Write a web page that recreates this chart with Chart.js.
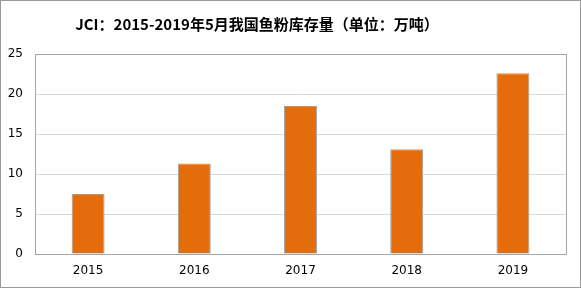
<!DOCTYPE html>
<html>
<head>
<meta charset="utf-8">
<script src="https://cdn.jsdelivr.net/npm/chart.js@4"></script>
<style>
  html, body { margin: 0; padding: 0; background: #fff; }
  #wrap { width: 581px; height: 288px; }
</style>
</head>
<body>
<div id="wrap"><canvas id="FishMealChart" width="581" height="288"></canvas></div>
<script>
const years = ['2015', '2016', '2017', '2018', '2019'];
const stock = [7.5, 11.3, 18.5, 13.1, 22.6];
const yTicks = [0, 5, 10, 15, 20, 25];
const titleText = 'JCI：2015-2019年5月我国鱼粉库存量（单位：万吨）';

// title (sits a bit left of centre in the original), outer frame and plot-area frame
const frames = {
    id: 'frames',
    afterDraw(chart) {
        const ctx = chart.ctx;
        const a = chart.chartArea;
        ctx.save();
        ctx.strokeStyle = '#a6a6a6';
        ctx.lineWidth = 1;
        ctx.strokeRect(Math.round(a.left) + 0.5, Math.round(a.top) + 0.5,
            Math.round(a.right - a.left), Math.round(a.bottom - a.top));
        ctx.strokeStyle = '#9a9a9a';
        ctx.strokeRect(0.5, 0.5, chart.width - 1, chart.height - 1);

        ctx.fillStyle = '#000';
        ctx.font = 'bold 15px "Noto Sans CJK SC", sans-serif';
        ctx.textAlign = 'center';
        ctx.textBaseline = 'middle';
        ctx.fillText(titleText, 257, 24);
        ctx.restore();
    }
};

const color = '#e46c0a';
new Chart(document.getElementById('FishMealChart'), {
    type: 'bar',
    data: {
        labels: years,
        datasets: [{
            label: '库存量',
            data: stock,
            backgroundColor: color,
            borderColor: '#9e9e9e',
            borderWidth: 1,
            barPercentage: 0.31,
            categoryPercentage: 1
        }]
    },
    options: {
        responsive: false,
        animation: false,
        layout: { padding: { left: 0, right: 15, top: 54, bottom: 0 } },
        plugins: {
            legend: { display: false },
            tooltip: { enabled: false },
            title: { display: false }
        },
        scales: {
            x: {
                grid: { display: false, drawTicks: false },
                border: { display: false },
                ticks: { color: '#000', padding: 10, font: { family: '"DejaVu Sans", sans-serif', size: 12 } },
                afterFit(scale) { scale.height = 34; }
            },
            y: {
                min: 0,
                max: 25,
                afterBuildTicks(scale) { scale.ticks = yTicks.map(v => ({ value: v })); },
                grid: { color: '#d9d9d9', drawTicks: false },
                border: { display: false },
                ticks: { color: '#000', padding: 12, font: { family: '"DejaVu Sans", sans-serif', size: 12 } },
                afterFit(scale) { scale.width = 35; }
            }
        }
    },
    plugins: [frames]
});
</script>
</body>
</html>
